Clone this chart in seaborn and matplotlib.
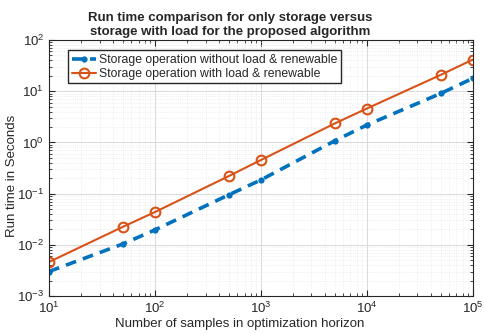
import pandas as pd
import seaborn as sns
from matplotlib import pyplot as plt
from matplotlib.ticker import LogLocator, NullFormatter

# datos
muestras = [10, 50, 100, 500, 1000, 5000, 10000, 50000, 100000]
sin_carga = [0.0030, 0.0104, 0.0195, 0.095, 0.185, 1.08, 2.19, 9.1, 17.9]
con_carga = [0.0046, 0.0225, 0.0436, 0.221, 0.453, 2.36, 4.6, 21.0, 41.6]
etiquetas = ["Storage operation without load & renewable",
             "Storage operation with load & renewable"]
titulo = "Run time comparison for only storage versus\nstorage with load for the proposed algorithm"

azul = "#0072BD"
naranja = "#D95319"

sns.set_style("ticks")
plt.rcParams['font.family'] = ['Liberation Sans', 'DejaVu Sans']
plt.rcParams['mathtext.fontset'] = 'custom'
plt.rcParams['mathtext.rm'] = 'Liberation Sans'

df = pd.DataFrame({"n": muestras, "sin": sin_carga, "con": con_carga})

fig = plt.figure(figsize=(4.85, 3.34), dpi=100)
ax = fig.add_axes([0.101, 0.114, 0.874, 0.766])

sns.lineplot(data=df, x="n", y="sin", ax=ax, color=azul, linewidth=2.6,
             marker="o", markersize=4.5, markeredgewidth=0, label=etiquetas[0])
ax.lines[-1].set_dashes([3, 2])
sns.lineplot(data=df, x="n", y="con", ax=ax, color=naranja, linewidth=1.5,
             marker="o", markersize=7, markerfacecolor="none",
             markeredgecolor=naranja, markeredgewidth=1.5, label=etiquetas[1])

ax.set_xscale("log")
ax.set_yscale("log")
ax.set_xlim(10, 1e5)
ax.set_ylim(1e-3, 1e2)

for eje in (ax.xaxis, ax.yaxis):
    eje.set_major_locator(LogLocator(base=10, numticks=10))
    eje.set_minor_locator(LogLocator(base=10, subs=range(2, 10), numticks=50))
    eje.set_minor_formatter(NullFormatter())

ax.grid(True, which="major", color="#d9d9d9", linewidth=0.7)
ax.grid(True, which="minor", color="#e4e4e4", linewidth=0.5, linestyle=":")
ax.tick_params(which="both", direction="in", top=True, right=True,
               colors="#262626", labelsize=9.5)
ax.tick_params(which="major", length=4)
ax.tick_params(which="minor", length=2)
for lado in ax.spines.values():
    lado.set_color("#262626")
    lado.set_linewidth(0.8)
    lado.set_visible(True)

ax.set_xlabel("Number of samples in optimization horizon", fontsize=9.5,
              color="#262626", labelpad=2)
ax.xaxis.set_label_coords(0.45, -0.085)
ax.set_ylabel("Run time in Seconds", fontsize=9.5, color="#262626", labelpad=4)
ax.yaxis.set_label_coords(-0.074, 0.47)
ax.set_title(titulo, fontsize=9.5, fontweight="bold", pad=4, x=0.428)

ax.legend(loc="upper left", bbox_to_anchor=(0.045, 0.96), fontsize=8.8,
          fancybox=False, edgecolor="#262626", framealpha=1,
          handlelength=2.0, handletextpad=0.25, borderpad=0.3, labelspacing=0.15,
          borderaxespad=0)

fig.savefig("out.png", dpi=100)
